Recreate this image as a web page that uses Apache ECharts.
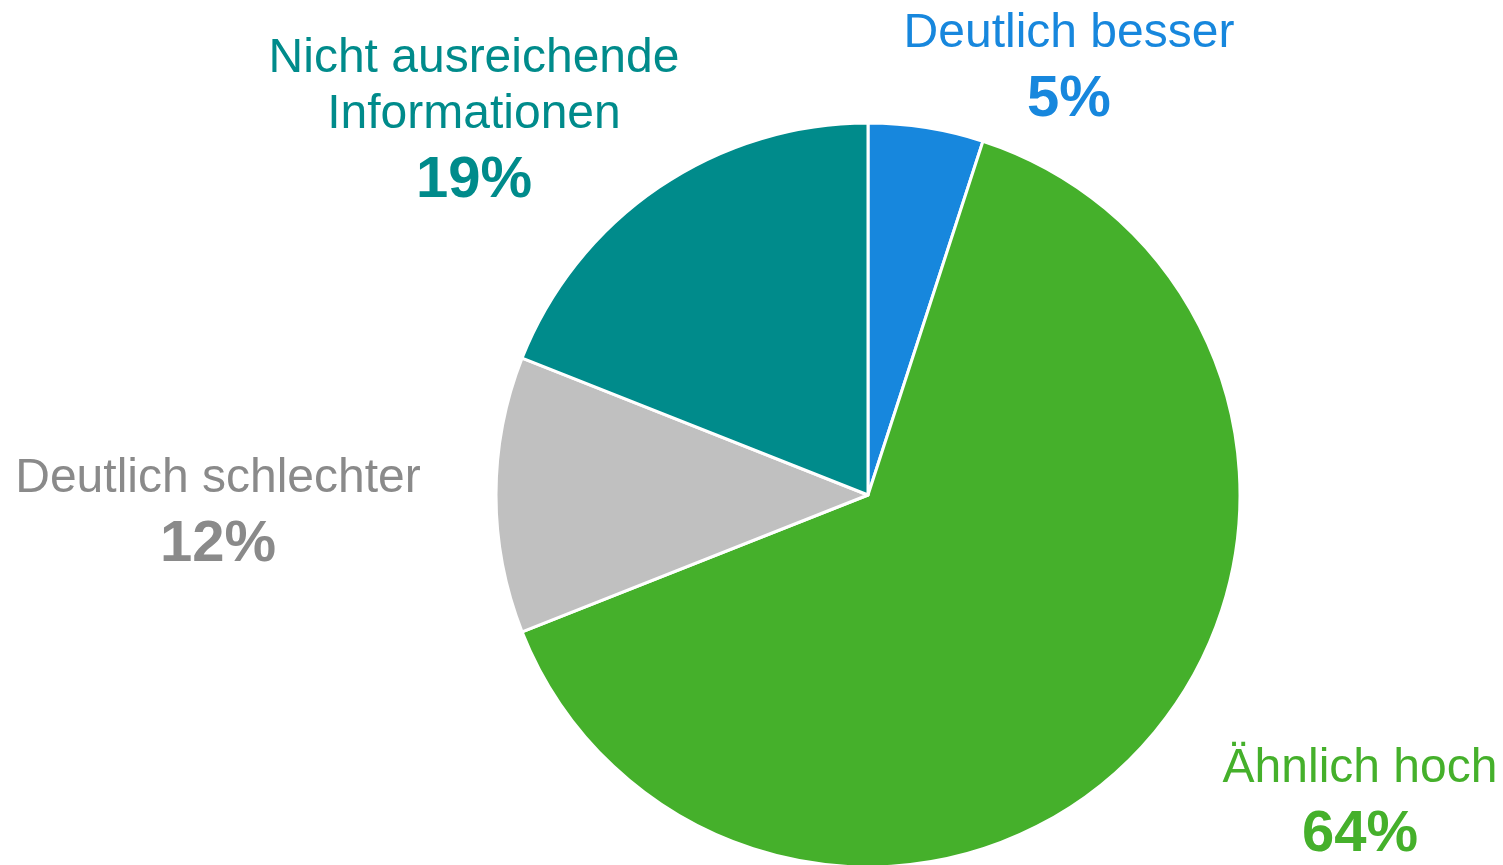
<!DOCTYPE html>
<html lang="de">
<head>
    <meta charset="UTF-8">
    <title>Kreisdiagramm</title>
    <script src="https://cdn.jsdelivr.net/npm/echarts@6/dist/echarts.min.js"></script>
    <style>
        html, body { margin: 0; padding: 0; background: #fff; }
        #chart { width: 1503px; height: 865px; }
    </style>
</head>
<body>
    <div id="chart"></div>
    <script>
        // Daten
        const names = ['Deutlich besser', 'Ähnlich hoch', 'Deutlich schlechter', 'Nicht ausreichende\nInformationen'];
        const values = [5, 64, 12, 19];
        const sliceColors = ['#1787dd', '#45b02b', '#c0c0c0', '#008b8b'];
        const labelColors = ['#1787dd', '#45b02b', '#8a8a8a', '#008b8b'];

        // Position der Beschriftungen (Mittelpunkt des Textblocks)
        const labelPos = [[1069, 72], [1360, 807], [218, 517], [474, 125]];

        const chart = echarts.init(document.getElementById('chart'));

        chart.setOption({
            animation: false,
            series: [{
                type: 'pie',
                center: [868, 495],
                radius: 372,
                startAngle: 90,
                clockwise: true,
                data: names.map((name, i) => ({
                    name: name,
                    value: values[i],
                    itemStyle: { color: sliceColors[i] },
                    label: { color: labelColors[i] }
                })),
                itemStyle: {
                    borderColor: '#fff',
                    borderWidth: 3
                },
                label: {
                    show: true,
                    position: 'outside',
                    fontFamily: 'Liberation Sans, Arial, sans-serif',
                    align: 'center',
                    formatter: p => '{n|' + p.name + '}\n{p|' + p.value + '%}',
                    rich: {
                        n: { fontSize: 48, lineHeight: 56, fontFamily: 'Liberation Sans, Arial, sans-serif', align: 'center' },
                        p: { fontSize: 58, lineHeight: 76, fontWeight: 'bold', fontFamily: 'Liberation Sans, Arial, sans-serif', align: 'center' }
                    }
                },
                labelLine: { show: false },
                labelLayout: params => ({
                    x: labelPos[params.dataIndex][0],
                    y: labelPos[params.dataIndex][1],
                    align: 'center',
                    verticalAlign: 'middle'
                }),
                emphasis: { disabled: true }
            }]
        });

        window.addEventListener('resize', function () {
            chart.resize();
        });
    </script>
</body>
</html>
